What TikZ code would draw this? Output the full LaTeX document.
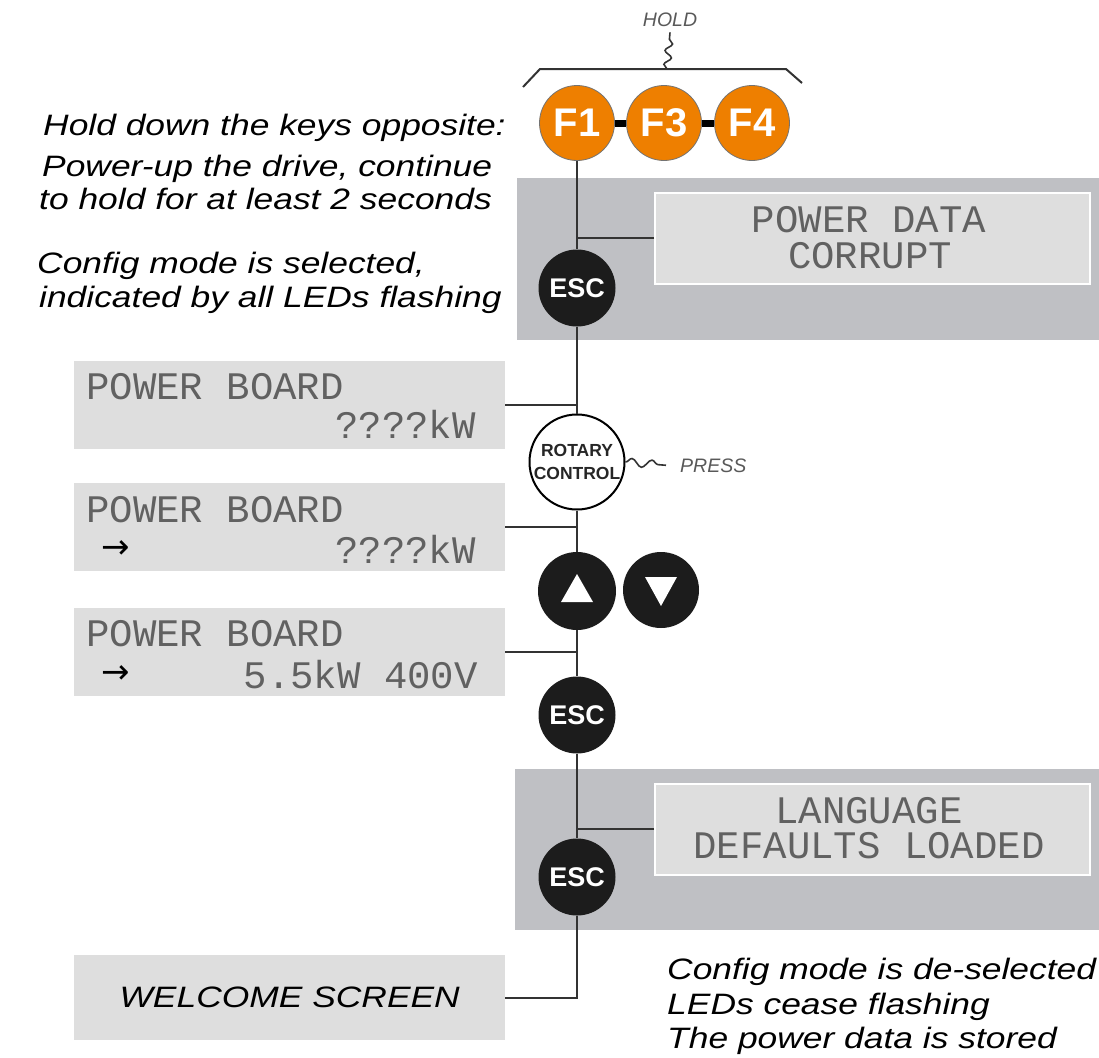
\documentclass[tikz,border=0pt]{standalone}
\usepackage{fontspec}
\setmainfont{Liberation Sans}
\newfontfamily\notefont[FakeStretch=1.2]{Liberation Sans}
\newfontfamily\lcdfont{Liberation Mono}
\newfontfamily\arrowfont{DejaVu Sans}
\usepackage{tikz}
\usetikzlibrary{calc,decorations.pathmorphing}
\definecolor{keyorange}{RGB}{238,127,0}
\definecolor{keyblack}{RGB}{28,28,28}
\definecolor{lcdgray}{RGB}{222,222,222}
\definecolor{panelgray}{RGB}{191,192,196}
\definecolor{linegray}{RGB}{51,51,51}

\begin{document}
\begin{tikzpicture}[x=1pt, y=-1pt,
  link/.style={draw=linegray, line width=2.4pt},
  fkey/.style={circle, fill=keyorange, draw=black!55, line width=0.8pt, minimum size=75pt, inner sep=0pt, text=white, font=\bfseries\fontsize{40}{40}\selectfont},
  esckey/.style={circle, fill=keyblack, minimum size=77pt, inner sep=0pt, text=white, font=\bfseries\fontsize{27}{27}\selectfont},
  lcdbox/.style={rectangle, fill=lcdgray, anchor=north west, minimum width=431pt, inner sep=0pt},
  panelbox/.style={rectangle, fill=panelgray, anchor=north west, minimum width=584pt, inner sep=0pt},
  screen/.style={rectangle, fill=lcdgray, draw=white, line width=1.5pt, anchor=north west, minimum width=435pt, minimum height=91pt, inner sep=0pt},
  lcdtext/.style={font=\lcdfont\fontsize{39}{39}\selectfont, text=black!62, inner sep=0pt, text height=26pt, text depth=0pt},
  note/.style={font=\notefont\itshape\fontsize{29.5}{29.5}\selectfont, inner sep=0pt, anchor=base west},
  tag/.style={font=\itshape\fontsize{19.5}{19.5}\selectfont, text=black!65, inner sep=0pt},
  squiggle/.style={draw=linegray, line width=1.6pt, decorate}]
  \useasboundingbox (0,0) rectangle (1099,1057);

  \node[panelbox, minimum height=162pt] (cfgpanel) at (517,178) {};
  \node[panelbox, minimum height=161pt] (langpanel) at (515,769) {};
  \node[screen] (pdc) at (654,192) {};
  \node[screen] (ldl) at (654,783) {};
  \foreach \n/\y in {1/361, 2/483, 3/608}
    \node[lcdbox, minimum height=88pt] (pb\n) at (74,\y) {};
  \node[lcdbox, minimum height=85pt, font=\notefont\itshape\fontsize{29.5}{29.5}\selectfont] (welcome) at (74,955) {WELCOME SCREEN};

  \node[fkey] (f1) at (577,123) {F1};
  \node[fkey] (f3) at (664,123) {F3};
  \node[fkey] (f4) at (752,123) {F4};
  \draw[line width=7pt] (f1) -- (f3) -- (f4);
  \node[esckey] (esc1) at (577,288) {ESC};
  \node[circle, draw=black, line width=2pt, fill=white, minimum size=95pt, inner sep=0pt, align=center,
        font=\bfseries\fontsize{17.5}{23}\selectfont, text=black!85] (rot) at (577,462) {ROTARY\\CONTROL};
  \node[esckey, minimum size=78pt] (up) at (577,591) {};
  \node[esckey, minimum size=76pt] (down) at (661,590) {};
  \fill[white] ($(up)+(0,-17)$) -- ($(up)+(16,11)$) -- ($(up)+(-16,11)$) -- cycle;
  \fill[white] ($(down)+(-16,-13)$) -- ($(down)+(16,-13)$) -- ($(down)+(0,16)$) -- cycle;
  \node[esckey] (esc2) at (577,715) {ESC};
  \node[esckey] (esc3) at (577,877) {ESC};

  \coordinate (bend) at (welcome.east -| esc3);
  \draw[link] (f1) -- (esc1) -- (rot) -- (up) -- (esc2) -- (esc3) -- (bend) -- (welcome.east);
  \draw[link] (pdc.west) -- (pdc.west -| esc1);
  \draw[link] (ldl.west) -- (ldl.west -| esc3);
  \foreach \n in {1,2,3}
    \draw[link] (pb\n.east) -- (pb\n.east -| rot);

  \draw[link, line width=2pt] (523,87) -- (540,69) -- (786,69) -- (802,83);
  \coordinate (brace) at (667,69);
  \node[tag, anchor=base] (hold) at (670,27) {HOLD};
  \draw[squiggle, decoration={snake, amplitude=3.5pt, segment length=14pt}] (brace) -- ([yshift=-5pt]hold.south);
  \node[tag, anchor=base west] (press) at (680,472) {PRESS};
  \draw[squiggle, decoration={snake, amplitude=4pt, segment length=20pt}] (rot.east) -- ([xshift=-14pt]press.west);

  \foreach \n/\y in {1/399, 2/522, 3/646}
    \node[lcdtext, anchor=base west] (title\n) at (86,\y) {POWER BOARD};
  \node[lcdtext, anchor=base east] (rate1) at (476,438) {????kW};
  \node[lcdtext, anchor=base east] (rate2) at (476,563) {????kW};
  \node[lcdtext, anchor=base east] (rate3) at (478,688) {5.5kW 400V};
  \node[font=\arrowfont\fontsize{34}{34}\selectfont, inner sep=0pt, anchor=base west] (sel2) at (101,558) {→};
  \node[font=\arrowfont\fontsize{34}{34}\selectfont, inner sep=0pt, anchor=base west] (sel3) at (101,683) {→};
  \node[lcdtext, anchor=base] (pdc1) at (869,232) {POWER DATA};
  \node[lcdtext, anchor=base] (pdc2) at (870,268) {CORRUPT};
  \node[lcdtext, anchor=base] (ldl1) at (869,823) {LANGUAGE};
  \node[lcdtext, anchor=base] (ldl2) at (869,858) {DEFAULTS LOADED};

  \node[note] (hint1) at (43,135) {Hold down the keys opposite:};
  \node[note] (hint2) at (42,176) {Power-up the drive, continue};
  \node[note] (hint3) at (39,209) {to hold for at least 2 seconds};
  \node[note] (hint4) at (37,273) {Config mode is selected,};
  \node[note] (hint5) at (39,307) {indicated by all LEDs flashing};
  \node[note] (done1) at (667,979) {Config mode is de-selected};
  \node[note] (done2) at (667,1014) {LEDs cease flashing};
  \node[note] (done3) at (667,1048) {The power data is stored};
\end{tikzpicture}
\end{document}
